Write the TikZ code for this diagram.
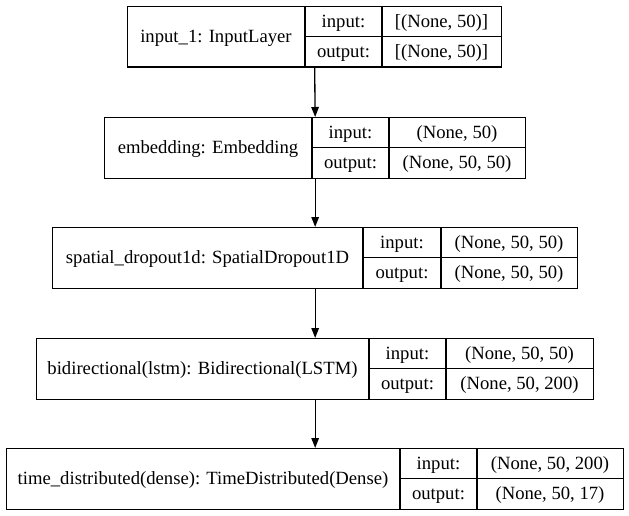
\documentclass[tikz,border=0pt]{standalone}
\usepackage{fontspec}
\setmainfont{Liberation Serif}
\usetikzlibrary{arrows.meta}
\tikzset{
  lbox/.style={draw, line width=1.33pt, inner sep=0pt, anchor=north west},
  cell/.style={line width=1.33pt},
  txt/.style={inner sep=0pt, anchor=base, font=\fontsize{18.67}{22}\selectfont},
  conn/.style={line width=1.33pt, -{Triangle[length=10pt,width=7.5pt]}}
}
% #1 name, #2 left, #3 col1, #4 col2, #5 right, #6 top, #7 label, #8 input, #9 output
\newcommand\kerasLayer[9]{%
  \pgfmathsetmacro\kw{#5-#2}%
  \pgfmathsetmacro\kbot{#6+60.5}%
  \pgfmathsetmacro\ksplit{#6+30.25}%
  \node[lbox, minimum width=\kw pt, minimum height=60.5pt] (#1) at (#2,#6) {};
  \draw[cell] (#3,#6) -- (#3,\kbot);
  \draw[cell] (#4,#6) -- (#4,\kbot);
  \draw[cell] (#3,\ksplit) -- (#5,\ksplit);
  \node[txt] (#1-name) at ({(#2+#3)/2},{#6+36.5}) {#7};
  \node[txt] (#1-inl) at ({(#3+#4)/2},{#6+21.5}) {input:};
  \node[txt] (#1-outl) at ({(#3+#4)/2},{#6+51.5}) {output:};
  \node[txt] (#1-in) at ({(#4+#5)/2},{#6+21.5}) {#8};
  \node[txt] (#1-out) at ({(#4+#5)/2},{#6+51.5}) {#9};
}
\begin{document}
\begin{tikzpicture}[x=1pt,y=-1pt]
\useasboundingbox[fill=white] (0,0) rectangle (629,516);
\kerasLayer{l1}{127}{305}{382}{501}{6}{input\_1: InputLayer}{[(None, 50)]}{[(None, 50)]}
\kerasLayer{l2}{104}{312}{389}{525}{117}{embedding: Embedding}{(None, 50)}{(None, 50, 50)}
\kerasLayer{l3}{52}{363}{441}{577}{227}{spatial\_dropout1d: SpatialDropout1D}{(None, 50, 50)}{(None, 50, 50)}
\kerasLayer{l4}{36}{369}{446}{593}{338}{bidirectional(lstm): Bidirectional(LSTM)}{(None, 50, 50)}{(None, 50, 200)}
\kerasLayer{l5}{6}{400}{477}{623}{448}{time\_distributed(dense): TimeDistributed(Dense)}{(None, 50, 200)}{(None, 50, 17)}
\draw[conn] (l1.south) -- (l2.north);
\draw[conn] (l2.south) -- (l3.north);
\draw[conn] (l3.south) -- (l4.north);
\draw[conn] (l4.south) -- (l5.north);
\end{tikzpicture}
\end{document}
